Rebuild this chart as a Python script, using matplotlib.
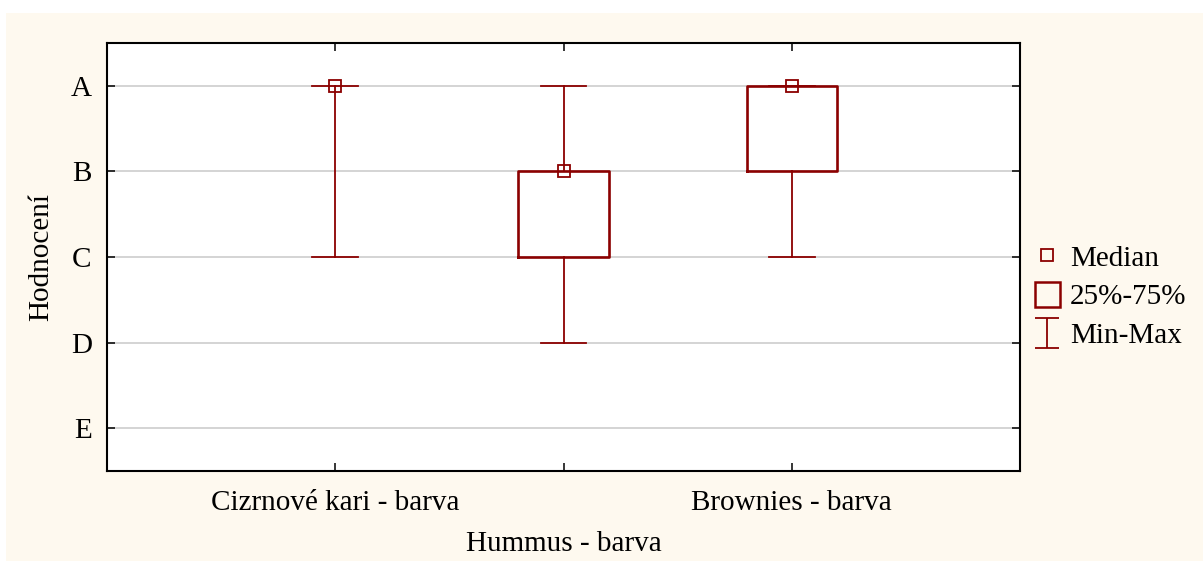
import matplotlib
matplotlib.use("Agg")
import matplotlib.pyplot as plt
from matplotlib.patches import Rectangle
from matplotlib.lines import Line2D
from matplotlib.path import Path

# ---- data ----
categories = ["Cizrnové kari - barva", "Hummus - barva", "Brownies - barva"]
grade_labels = ["E", "D", "C", "B", "A"]     # values 1..5
grade_values = [1, 2, 3, 4, 5]
mins    = [3, 2, 3]
q1s     = [5, 3, 4]
medians = [5, 4, 5]
q3s     = [5, 4, 5]
maxs    = [5, 5, 5]
ylabel = "Hodnocení"
legend_labels = ["Median", "25%-75%", "Min-Max"]

# ---- style ----
W, H = 1203, 563
DPI = 100
RED = "#8B0000"
CREAM = "#FEF9EF"
plt.rcParams["font.family"] = ["Liberation Serif", "DejaVu Serif"]
FS = 21

fig = plt.figure(figsize=(W / DPI, H / DPI), dpi=DPI, facecolor="white")
fig.patches.append(Rectangle((6 / W, 2 / H), 1 - 6 / W, 1 - 15 / H,
                             transform=fig.transFigure, facecolor=CREAM,
                             edgecolor="none", zorder=-10))

ax = fig.add_axes([107 / W, 1 - 471 / H, (1020 - 107) / W, (471 - 43) / H])
ax.set_facecolor("white")

positions = list(range(1, len(categories) + 1))
stats = []
for i in range(len(categories)):
    stats.append(dict(med=medians[i], q1=q1s[i], q3=q3s[i],
                      whislo=mins[i], whishi=maxs[i], fliers=[]))
art = ax.bxp(stats, positions=positions, widths=0.395, capwidths=0.2,
             showfliers=False,
             boxprops=dict(color=RED, linewidth=1.9),
             whiskerprops=dict(color=RED, linewidth=1.3),
             capprops=dict(color=RED, linewidth=1.3),
             medianprops=dict(linewidth=0, alpha=0),
             zorder=3)
# a box with zero height is not drawn
for i, b in enumerate(art["boxes"]):
    if q1s[i] == q3s[i]:
        b.set_visible(False)
ax.plot(positions, medians, linestyle="none", marker="s", markersize=9,
        markerfacecolor="none", markeredgecolor=RED, markeredgewidth=1.3,
        zorder=4)

ax.set_xlim(0, len(categories) + 1)
ax.set_ylim(0.5, 5.5)
ax.set_yticks(grade_values, grade_labels, fontsize=FS)
ax.yaxis.grid(True, color="#d4d4d4", linewidth=1.4)
ax.set_axisbelow(True)

major_pos = [positions[0], positions[2]]
ax.set_xticks(major_pos, [categories[0], categories[2]], fontsize=FS)
ax.set_xticks([positions[1]], [categories[1]], minor=True, fontsize=FS)
ax.tick_params(which="both", direction="in", length=6, width=1.1,
               top=True, right=True, colors="black")
ax.tick_params(axis="x", which="major", pad=14)
ax.tick_params(axis="x", which="minor", pad=43)
ax.tick_params(axis="y", pad=11)
for s in ax.spines.values():
    s.set_linewidth(1.5)
    s.set_color("black")

ax.set_ylabel(ylabel, fontsize=FS, labelpad=12)

# legend
ibeam = Path([(-0.4, -0.5), (0.4, -0.5), (0, -0.5), (0, 0.5), (-0.4, 0.5), (0.4, 0.5)],
             [Path.MOVETO, Path.LINETO, Path.MOVETO, Path.LINETO, Path.MOVETO, Path.LINETO])
handles = [
    Line2D([], [], linestyle="none", marker="s", markersize=9,
           markerfacecolor="none", markeredgecolor=RED, markeredgewidth=1.3),
    Line2D([], [], linestyle="none", marker="s", markersize=18,
           markerfacecolor="none", markeredgecolor=RED, markeredgewidth=1.8),
    Line2D([], [], linestyle="none", marker=ibeam, markersize=22,
           markerfacecolor="none", markeredgecolor=RED, markeredgewidth=1.3),
]
fig.legend(handles, legend_labels, loc="center left",
           bbox_to_anchor=(1013 / W, 1 - 297 / H), frameon=False,
           fontsize=FS, handlelength=0.9, handletextpad=0.35,
           labelspacing=0.42, borderpad=0.2)

fig.savefig("out.png", dpi=DPI, facecolor=fig.get_facecolor())
